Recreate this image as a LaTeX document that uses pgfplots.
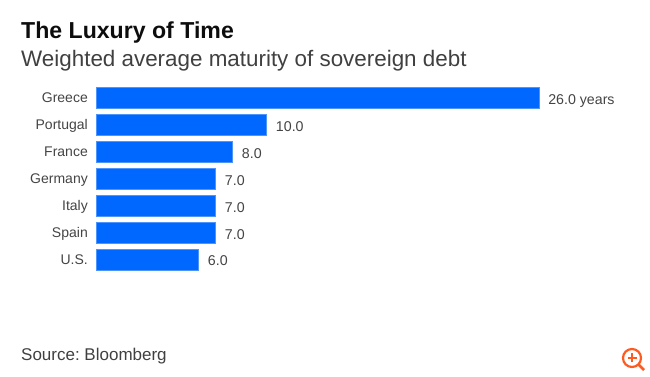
\documentclass[border=0pt]{standalone}
\usepackage{fontspec}
\setmainfont{Liberation Sans}
\usepackage{pgfplots}
\usepackage{pgfplotstable}
\pgfplotsset{compat=1.18}
\definecolor{barblue}{HTML}{0068FF}
\definecolor{barline}{HTML}{4C95FF}
\definecolor{labelgray}{HTML}{444444}
\definecolor{icon}{HTML}{FF5A1F}
\pgfplotstableread[col sep=comma]{
idx,value,label
0,26,26.0 years
1,10,10.0
2,8,8.0
3,7,7.0
4,7,7.0
5,7,7.0
6,6,6.0
}\bars
\begin{document}
\frenchspacing
\begin{tikzpicture}[x=1pt,y=1pt]
\path[use as bounding box] (0,0) rectangle (650,377);
\node[anchor=base west,inner sep=0pt,font=\fontsize{23.1}{26}\selectfont\bfseries,text=black!95] at (21,377-38.5) {The Luxury of Time};
\node[anchor=base west,inner sep=0pt,font=\fontsize{22.4}{26}\selectfont,text=black!75] at (21,377-67) {Weighted average maturity of sovereign debt};
\begin{axis}[
  at={(96.5pt,103.5pt)},anchor=south west,
  scale only axis,width=442.5pt,height=189pt,
  xmin=0,xmax=26,ymin=-0.5,ymax=6.5,y dir=reverse,
  axis line style={draw=none},
  xtick=\empty,
  ytick={0,1,2,3,4,5,6},
  yticklabels={Greece,Portugal,France,Germany,Italy,Spain,U.S.},
  major tick length=0pt,
  yticklabel style={font=\fontsize{14}{16}\selectfont,text=labelgray,inner sep=0pt,xshift=-8.5pt,yshift=-1pt,text height=10pt,text depth=3pt},
  clip=false,
]
\addplot[xbar,bar width=21pt,fill=barblue,draw=barline,line width=0.6pt,
  point meta=explicit symbolic,
  nodes near coords,
  nodes near coords style={font=\fontsize{14.2}{16}\selectfont,text=labelgray,anchor=west,inner sep=0pt,xshift=9pt,yshift=-2.5pt,text height=10pt,text depth=3pt},
] table[col sep=comma,x=value,y=idx,meta=label] {\bars};
\end{axis}
\node[anchor=base west,inner sep=0pt,font=\fontsize{17}{19}\selectfont,text=black!75] at (21,377-361) {Source: Bloomberg};
\begin{scope}[shift={(632,377-358)}]
\draw[icon,line width=2.2pt] (0,0) circle (9pt);
\draw[icon,line width=2.6pt] (6.5,-6.5) -- (12,-12);
\draw[icon,line width=2.6pt] (-4.5,0) -- (4.5,0) (0,-4.5) -- (0,4.5);
\end{scope}
\end{tikzpicture}
\end{document}
